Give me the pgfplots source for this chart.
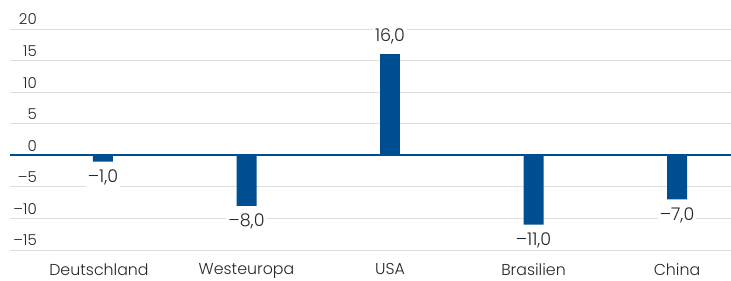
\documentclass[border=0pt]{standalone}
\usepackage{fontspec}
\setmainfont{Poppins}[UprightFont=* Light]
\usepackage{pgfplots}
\pgfplotsset{compat=1.18}
\definecolor{barblue}{RGB}{0,78,146}
\definecolor{gridgray}{RGB}{222,222,222}
\begin{document}
\begin{tikzpicture}[x=1pt,y=1pt]
\useasboundingbox (0,0) rectangle (731,281);
\begin{axis}[
  at={(10pt,31pt)}, anchor=south west,
  width=721pt, height=221pt, scale only axis,
  xmin=-0.648, xmax=4.376, ymin=-15, ymax=20,
  clip=false,
  axis line style={draw=none},
  major tick style={draw=none},
  ymajorgrids, grid style={gridgray, line width=0.8pt},
  xtick={0,1,2,3,4},
  xticklabels={Deutschland\hspace*{8pt},Westeuropa,USA,Brasilien,China},
  ytick={-15,-10,-5,0,5,10,15,20},
  yticklabels={–15,–10,–5,0,5,10,15,20},
  ticklabel style={font=\fontsize{15}{18}\selectfont, text=black!85},
  yticklabel style={anchor=base east, inner sep=0pt, xshift=27pt, yshift=4pt},
  xticklabel style={anchor=north, yshift=-6pt, font=\fontsize{15.8}{18}\selectfont},
  ybar, bar width=20pt, bar shift=0pt,
  nodes near coords, point meta=explicit symbolic,
  every node near coord/.append style={font=\fontsize{17.5}{20}\selectfont, text=black!85, fill=white, inner sep=2pt},
]
\addplot[fill=barblue, draw=none,
  every node near coord/.append style={anchor=south, yshift=8pt}] table[x=x, y=y, meta=lab] {
x y lab
2 16 16,0
};
\addplot[fill=barblue, draw=none,
  every node near coord/.append style={anchor=north, yshift=-6pt}] table[x=x, y=y, meta=lab] {
x y lab
0 -1 –1,0
1 -8 –8,0
3 -11 –11,0
4 -7 –7,0
};
\draw[barblue, line width=2pt] (axis cs:-0.648,0) -- (axis cs:4.376,0);
\end{axis}
\end{tikzpicture}
\end{document}
